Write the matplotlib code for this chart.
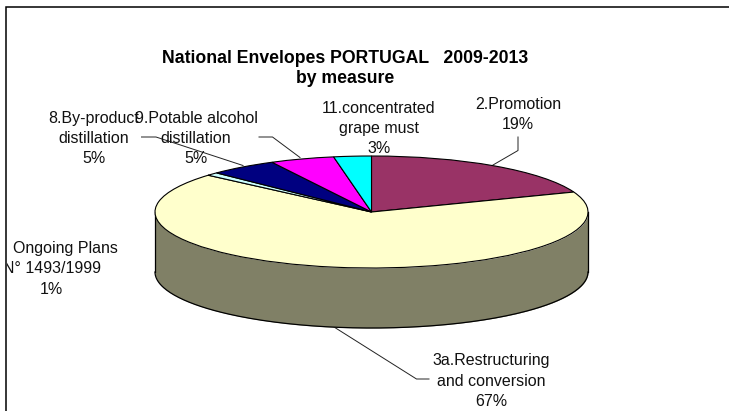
import numpy as np
import matplotlib
matplotlib.use('Agg')
import matplotlib.pyplot as plt
from matplotlib.patches import Rectangle
from matplotlib.colors import to_rgb

plt.rcParams['font.family'] = ['Liberation Sans', 'DejaVu Sans']

# shares, clockwise from 12 o'clock (labels show them rounded)
measures = ['2.Promotion', '3a.Restructuring\nand conversion', 'Ongoing Plans\nN° 1493/1999',
            '8.By-product\ndistillation', '9.Potable alcohol\ndistillation',
            '11.concentrated\ngrape must']
shares = [19.2, 67.2, 0.9, 5.1, 4.8, 2.8]
colors = ['#993366', '#FFFFCC', '#CCFFFF', '#000080', '#FF00FF', '#00FFFF']
title = 'National Envelopes PORTUGAL   2009-2013\nby measure'

W, H = 729, 411
fig = plt.figure(figsize=(W / 100, H / 100), dpi=100)

# overlay in pixel coords for the frame, labels and leader lines
bg = fig.add_axes([0, 0, 1, 1])
bg.set_xlim(0, W)
bg.set_ylim(H, 0)
bg.axis('off')
bg.plot([6.5, 6.5, W], [H, 7.5, 7.5], color='black', lw=1.1, solid_joinstyle='miter')

# pie top ellipse box, in pixels
left, right, top, bottom = 155, 588, 156, 268
depth = 2 * 60 / (bottom - top)
ax = fig.add_axes([left / W, 1 - bottom / H, (right - left) / W, (bottom - top) / H])
wedges, _ = ax.pie(shares, colors=colors, startangle=90, counterclock=False, radius=1,
                   wedgeprops={'edgecolor': 'black', 'linewidth': 0.8, 'clip_on': False})
ax.set_aspect('auto')
ax.set_xlim(-1, 1)
ax.set_ylim(-1, 1)

# side wall: only the front half of each slice shows (angles run -270..90 here)
for w in wedges:
    t1 = max(w.theta1, -180)
    t2 = min(w.theta2, 0)
    if t2 <= t1:
        continue
    t = np.radians(np.linspace(t1, t2, 200))
    side = tuple(c * 0.5 for c in to_rgb(w.get_facecolor()))
    x = np.cos(t)
    y = np.sin(t)
    ax.fill_between(x, y, y - depth, color=side, lw=0, clip_on=False, zorder=0.5)
    ax.plot(x, y - depth, color='black', lw=0.9, clip_on=False, zorder=0.6)
ax.plot([-1, -1], [0, -depth], color='black', lw=0.9, clip_on=False, zorder=0.6)
ax.plot([1, 1], [0, -depth], color='black', lw=0.9, clip_on=False, zorder=0.6)

# leader lines
for xs, ys in [([141.5, 156, 243], [137, 137, 165.5]),
               ([259, 272.5, 300], [137, 137, 157.5]),
               ([518, 518, 493], [137, 150.5, 165]),
               ([334, 416.5, 429], [327, 379, 379])]:
    bg.plot(xs, ys, color='#222222', lw=0.7)

tc = '#111111'
fs = 11.5
ls = 1.42


def label(i, x, y):
    bg.text(x, y, f'{measures[i]}\n{round(shares[i])}%', ha='center', va='center', color=tc,
            fontsize=fs, linespacing=ls, multialignment='center', zorder=5)


label(3, 94, 138.5)
label(4, 196, 138.5)
label(5, 379, 128.5)
label(0, 518, 114.5)
label(1, 491.5, 381)

# this label runs over the frame and gets cut off there
clip = Rectangle((7, 0), W, H, transform=bg.transData)
first, second = measures[2].split('\n')
for txt, x, y in [(first, 65, 248), (second, 52, 268.5), (f'{round(shares[2])}%', 51.5, 289)]:
    t = bg.text(x, y, txt, ha='center', va='center', color=tc, fontsize=fs, zorder=5)
    t.set_clip_path(clip)
    t.set_clip_on(True)

bg.text(345.5, 68.5, title, ha='center', va='center', color='black', fontsize=12.7,
        fontweight='bold', linespacing=1.3)

fig.savefig('out.png', dpi=100)
